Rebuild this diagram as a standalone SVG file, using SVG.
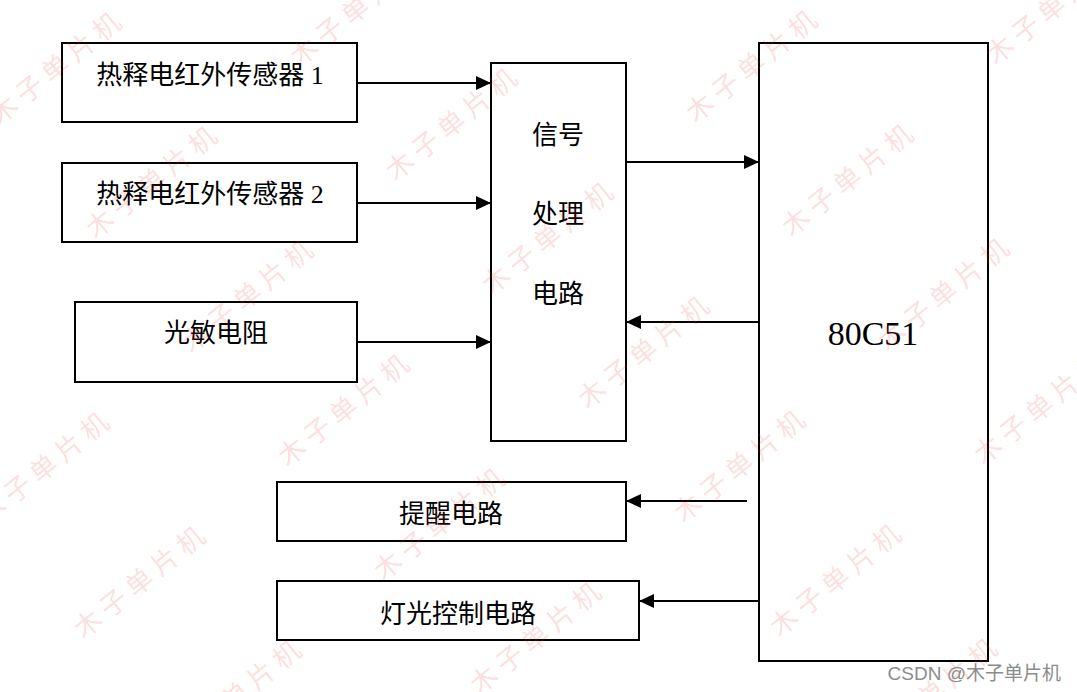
<svg xmlns="http://www.w3.org/2000/svg" width="1077" height="692" viewBox="0 0 1077 692">
  <style>
    .box { fill: #ffffff; stroke: #000000; stroke-width: 2; }
    .lbl { font-family: "Liberation Serif", "Noto Sans CJK SC", serif; font-size: 26px; fill: #000000; text-anchor: middle; }
    .mcu { font-family: "Liberation Serif", "Noto Sans CJK SC", serif; font-size: 34px; fill: #000000; text-anchor: middle; }
    .edge { fill: none; stroke: #000000; stroke-width: 2; }
    .wm { font-family: "Noto Sans CJK SC", sans-serif; font-size: 27px; letter-spacing: 6px; fill: #ee3333; fill-opacity: 0.17; text-anchor: middle; }
    .csdn { font-family: "Liberation Sans", "Noto Sans CJK SC", sans-serif; font-size: 19px; fill: #8c8c8c; text-anchor: end; }
  </style>
  <defs>
    <marker id="arrow" viewBox="0 0 15 14" refX="15" refY="7" markerWidth="15" markerHeight="14" markerUnits="userSpaceOnUse" orient="auto">
      <path d="M0,0 L15,7 L0,14 Z" fill="#000000"/>
    </marker>
  </defs>
  <rect width="1077" height="692" fill="#ffffff"/>

  <g id="connectors">
    <line class="edge" x1="357" y1="83" x2="491" y2="83" marker-end="url(#arrow)"/>
    <line class="edge" x1="357" y1="203" x2="491" y2="203" marker-end="url(#arrow)"/>
    <line class="edge" x1="357" y1="342" x2="491" y2="342" marker-end="url(#arrow)"/>
    <line class="edge" x1="626" y1="162" x2="759" y2="162" marker-end="url(#arrow)"/>
    <line class="edge" x1="759" y1="322" x2="626" y2="322" marker-end="url(#arrow)"/>
    <line class="edge" x1="747" y1="501" x2="626" y2="501" marker-end="url(#arrow)"/>
    <line class="edge" x1="759" y1="601" x2="639" y2="601" marker-end="url(#arrow)"/>
  </g>

  <g id="sensor1">
    <rect class="box" x="62" y="43" width="295" height="79"/>
    <text class="lbl" x="210" y="84">热释电红外传感器 1</text>
  </g>
  <g id="sensor2">
    <rect class="box" x="62" y="163" width="295" height="79"/>
    <text class="lbl" x="210" y="203">热释电红外传感器 2</text>
  </g>
  <g id="photoresistor">
    <rect class="box" x="75" y="302" width="282" height="80"/>
    <text class="lbl" x="216" y="342">光敏电阻</text>
  </g>
  <g id="signal">
    <rect class="box" x="491" y="63" width="135" height="378"/>
    <text class="lbl" x="558" y="144">信号</text>
    <text class="lbl" x="558" y="223">处理</text>
    <text class="lbl" x="558" y="303">电路</text>
  </g>
  <g id="mcu">
    <rect class="box" x="759" y="43" width="229" height="618"/>
    <text class="mcu" x="873" y="345">80C51</text>
  </g>
  <g id="alarm">
    <rect class="box" x="277" y="482" width="349" height="59"/>
    <text class="lbl" x="451" y="523">提醒电路</text>
  </g>
  <g id="light">
    <rect class="box" x="277" y="581" width="362" height="59"/>
    <text class="lbl" x="458" y="623">灯光控制电路</text>
  </g>

  <g id="watermarks">
    <text class="wm" x="58" y="78" transform="rotate(-39 55 68)">木子单片机</text>
    <text class="wm" x="154" y="192" transform="rotate(-39 151 182)">木子单片机</text>
    <text class="wm" x="250" y="306" transform="rotate(-39 247 296)">木子单片机</text>
    <text class="wm" x="346" y="420" transform="rotate(-39 343 410)">木子单片机</text>
    <text class="wm" x="442" y="534" transform="rotate(-39 439 524)">木子单片机</text>
    <text class="wm" x="538" y="648" transform="rotate(-39 535 638)">木子单片机</text>
    <text class="wm" x="358" y="20" transform="rotate(-39 355 10)">木子单片机</text>
    <text class="wm" x="454" y="134" transform="rotate(-39 451 124)">木子单片机</text>
    <text class="wm" x="550" y="248" transform="rotate(-39 547 238)">木子单片机</text>
    <text class="wm" x="646" y="362" transform="rotate(-39 643 352)">木子单片机</text>
    <text class="wm" x="742" y="476" transform="rotate(-39 739 466)">木子单片机</text>
    <text class="wm" x="838" y="590" transform="rotate(-39 835 580)">木子单片机</text>
    <text class="wm" x="934" y="704" transform="rotate(-39 931 694)">木子单片机</text>
    <text class="wm" x="754" y="76" transform="rotate(-39 751 66)">木子单片机</text>
    <text class="wm" x="850" y="190" transform="rotate(-39 847 180)">木子单片机</text>
    <text class="wm" x="946" y="304" transform="rotate(-39 943 294)">木子单片机</text>
    <text class="wm" x="1042" y="418" transform="rotate(-39 1039 408)">木子单片机</text>
    <text class="wm" x="1054" y="18" transform="rotate(-39 1051 8)">木子单片机</text>
    <text class="wm" x="46" y="478" transform="rotate(-39 43 468)">木子单片机</text>
    <text class="wm" x="142" y="592" transform="rotate(-39 139 582)">木子单片机</text>
    <text class="wm" x="238" y="706" transform="rotate(-39 235 696)">木子单片机</text>
  </g>

  <text class="csdn" x="1061" y="680">CSDN @木子单片机</text>
</svg>
